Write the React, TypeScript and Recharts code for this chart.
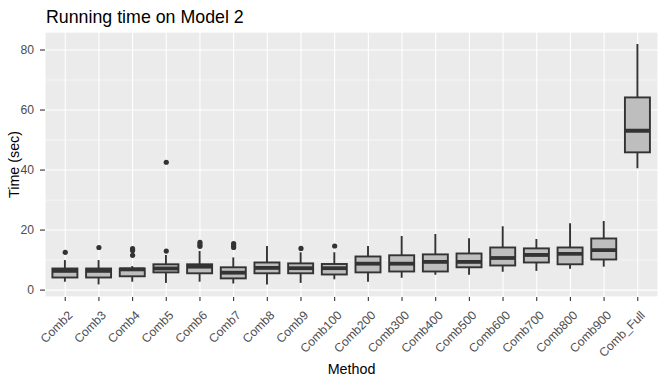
import React from "react";
import { ComposedChart, Bar, Scatter, XAxis, YAxis, CartesianGrid } from "recharts";

const methods = [
  "Comb2", "Comb3", "Comb4", "Comb5", "Comb6", "Comb7", "Comb8", "Comb9", "Comb100",
  "Comb200", "Comb300", "Comb400", "Comb500", "Comb600", "Comb700", "Comb800", "Comb900", "Comb_Full",
];
const lowerWhisker = [2.8, 1.9, 2.8, 2.4, 2.8, 2.2, 1.9, 2.4, 3.6, 2.8, 4.1, 5.1, 5.1, 6.1, 6.4, 7.1, 7.8, 40.6];
const q1 = [4.2, 4.2, 4.6, 5.9, 5.6, 3.9, 5.6, 5.6, 5.2, 5.9, 6.2, 6.2, 7.6, 8.2, 9.2, 8.6, 10.2, 45.9];
const median = [6.4, 6.4, 6.9, 7.2, 7.8, 5.8, 7.4, 7.3, 7.3, 8.8, 8.8, 9.4, 9.4, 10.7, 11.7, 12.1, 13.3, 53.1];
const q3 = [7.2, 7.2, 7.2, 8.6, 8.6, 7.6, 9.2, 8.9, 8.7, 11.2, 11.6, 11.9, 12.2, 14.2, 13.9, 14.2, 17.2, 64.2];
const upperWhisker = [10, 10, 8, 11.7, 13, 10.9, 14.7, 12.6, 12.6, 14.7, 18, 18.7, 17.3, 21.3, 17, 22.3, 23, 82];
const outliers = [
  [12.6], [14.2], [13.8, 13.2, 11.6], [42.6, 13], [15.9, 15.2, 14.6], [15.5, 14.8, 14.2],
  [], [13.9], [14.7], [], [], [], [], [], [], [], [], [],
];

const yTicks = [0, 20, 40, 60, 80];
const minorTicks = [10, 30, 50, 70];
const yDomain = [-2.3, 86];

const FONT = "'Liberation Sans', Arial, sans-serif";

const data = methods.map((name, i) => {
  const row: any = { name, lo: lowerWhisker[i], q1: q1[i], med: median[i], q3: q3[i], hi: upperWhisker[i] };
  outliers[i].forEach((v, k) => (row["o" + k] = v));
  return row;
});

// draws whisker + box + median; bar spans [lo, hi] so its geometry gives the linear scale
function BoxShape(props: any) {
  const { x, y, width, height, payload } = props;
  const top = Math.min(y, y + height);
  const h = Math.abs(height);
  const span = payload.hi - payload.lo;
  const py = (v: number) => top + (h * (payload.hi - v)) / span;
  const cx = x + width / 2;
  return (
    <g>
      <line x1={cx} x2={cx} y1={py(payload.hi)} y2={py(payload.q3)} stroke="#333333" strokeWidth={1.9} />
      <line x1={cx} x2={cx} y1={py(payload.q1)} y2={py(payload.lo)} stroke="#333333" strokeWidth={1.9} />
      <rect x={x} y={py(payload.q3)} width={width} height={py(payload.q1) - py(payload.q3)}
        fill="#BEBEBE" stroke="#333333" strokeWidth={1.9} />
      <line x1={x} x2={x + width} y1={py(payload.med)} y2={py(payload.med)} stroke="#333333" strokeWidth={3.8} />
    </g>
  );
}

function OutlierDot(props: any) {
  const { cx, cy } = props;
  if (cx == null || cy == null || isNaN(cy)) return <g />;
  return <circle cx={cx} cy={cy} r={2.6} fill="#333333" />;
}

function XTick(props: any) {
  const { x, y, payload } = props;
  return (
    <text transform={`translate(${x + 8},${y + 13}) rotate(-45)`} textAnchor="end"
      fill="#4D4D4D" fontSize={12.2} fontFamily={FONT}>
      {payload.value}
    </text>
  );
}

export default function App() {
  return (
    <div style={{ position: "relative", width: 666, height: 384, background: "#fff", fontFamily: FONT }}>
      <style>{`body{margin:0}`}</style>
      <div style={{ position: "absolute", left: 46, top: 8, fontSize: 17.8, lineHeight: "18px", color: "#000" }}>
        Running time on Model 2
      </div>
      <ComposedChart width={666} height={384} data={data} margin={{ top: 32, right: 8, bottom: 0, left: 0 }}>
        <CartesianGrid fill="#EBEBEB" stroke="#FFFFFF" strokeWidth={1.1} />
        <CartesianGrid yAxisId="minor" vertical={false} stroke="#FFFFFF" strokeWidth={0.55} />
        <XAxis
          dataKey="name"
          interval={0}
          axisLine={false}
          tickSize={4}
          tickLine={{ stroke: "#333333", strokeWidth: 1.1 }}
          tick={<XTick />}
          padding={{ left: 3.4, right: 3.4 }}
          height={87}
          label={{ value: "Method", position: "insideBottom", offset: 10, fill: "#000", fontSize: 14.3, fontFamily: FONT }}
        />
        <YAxis
          type="number"
          domain={yDomain}
          ticks={yTicks}
          allowDataOverflow
          width={45}
          axisLine={false}
          tickSize={5}
          tickMargin={6}
          tickLine={{ stroke: "#333333", strokeWidth: 1.1 }}
          tick={{ fill: "#4D4D4D", fontSize: 12.2, fontFamily: FONT }}
          label={{
            value: "Time (sec)", angle: -90, position: "insideLeft", offset: 14,
            fill: "#000", fontSize: 14.3, fontFamily: FONT, style: { textAnchor: "middle" },
          }}
        />
        <YAxis yAxisId="minor" type="number" domain={yDomain} ticks={minorTicks} allowDataOverflow hide />
        <Bar dataKey={(d: any) => [d.lo, d.hi]} barSize={25} shape={<BoxShape />} isAnimationActive={false} />
        <Scatter dataKey="o0" shape={<OutlierDot />} isAnimationActive={false} />
        <Scatter dataKey="o1" shape={<OutlierDot />} isAnimationActive={false} />
        <Scatter dataKey="o2" shape={<OutlierDot />} isAnimationActive={false} />
      </ComposedChart>
    </div>
  );
}
